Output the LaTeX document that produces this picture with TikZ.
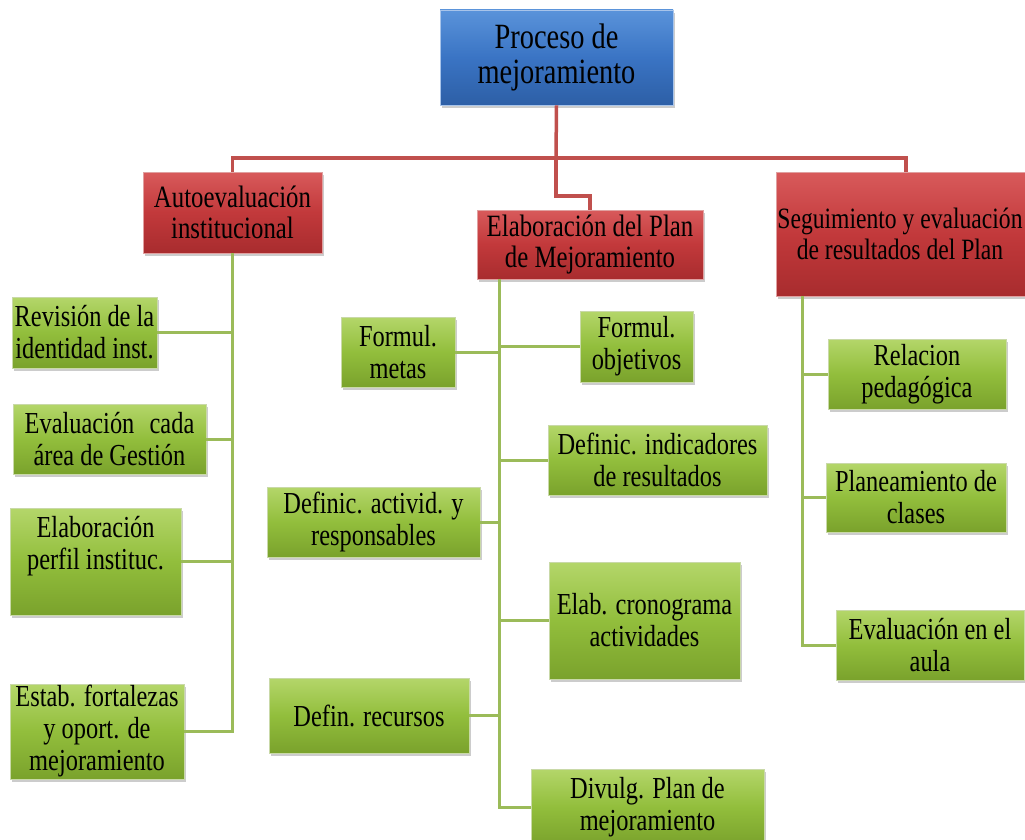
\documentclass[tikz,border=0pt]{standalone}
\usepackage{fontspec}
\setmainfont{Liberation Serif}[FakeStretch=0.8]
\usetikzlibrary{shadows}
\definecolor{gmain}{HTML}{92BE3C}
\definecolor{glight}{HTML}{B4D66A}
\definecolor{gdark}{HTML}{7AA22C}
\definecolor{gbord}{HTML}{C9D9A8}
\definecolor{rmain}{HTML}{C2393B}
\definecolor{rlight}{HTML}{D85A5B}
\definecolor{rdark}{HTML}{A82C2E}
\definecolor{rbord}{HTML}{E0A0A0}
\definecolor{bmain}{HTML}{3A74C4}
\definecolor{blight}{HTML}{5A93DA}
\definecolor{bdark}{HTML}{2D5FA6}
\definecolor{bbord}{HTML}{A8C4EA}
\definecolor{glinec}{HTML}{9BBB59}
\definecolor{rlinec}{HTML}{C0504D}
\begin{document}
\begin{tikzpicture}[x=1pt,y=-1pt,
  basebox/.style={rectangle, inner sep=0pt, align=center, text=black,
    drop shadow={shadow xshift=2pt, shadow yshift=-3pt, opacity=0.4}},
  gbox/.style={basebox, draw=gbord, line width=0.8pt, top color=glight, bottom color=gdark, middle color=gmain,
    font=\fontsize{30.5}{32}\selectfont},
  rbox/.style={basebox, draw=rbord, line width=0.8pt, top color=rlight, bottom color=rdark, middle color=rmain,
    font=\fontsize{31}{31}\selectfont},
  bbox/.style={basebox, draw=bbord, line width=0.8pt, top color=blight, bottom color=bdark, middle color=bmain,
    font=\fontsize{35.5}{35}\selectfont},
  txt/.style={inner sep=0pt, align=center, text=black, font=\fontsize{30.5}{32}\selectfont},
  gline/.style={draw=glinec, line width=3pt},
  rline/.style={draw=rlinec, line width=3.5pt}]
\useasboundingbox (0,0) rectangle (1025,840);
\clip (0,0) rectangle (1025,840);

\coordinate (rj) at (556,158);
\coordinate (mtop) at (499,279);
\coordinate (rtop) at (802,296);

% top level boxes
\node[bbox, minimum width=233pt, minimum height=95pt] (top) at (556.5,57.5) {Proceso de\\mejoramiento};
\node[rbox, minimum width=179pt, minimum height=81pt] (auto) at (232.5,212.5) {Autoevaluación\\institucional};
\node[rbox, minimum width=226pt, minimum height=69pt] (elab) at (590,244.5) {Elaboración del Plan\\de Mejoramiento};
\node[rbox, minimum width=260pt, minimum height=124pt] (seg) at (906,234) {};
\node[inner sep=0pt, align=center, text=black, font=\fontsize{29.5}{31}\selectfont] (segtxt) at (900,234) {Seguimiento y evaluación\\de resultados del Plan};

% left column
\node[gbox, minimum width=145pt, minimum height=71pt] (rev) at (84.5,332.5) {Revisión de la\\identidad inst.};
\node[gbox, minimum width=193pt, minimum height=70pt] (area) at (109.5,439) {Evaluación\enspace cada\\área de Gestión};
\node[gbox, minimum width=171pt, minimum height=107pt] (perfil) at (95.5,561.5) {};
\node[txt] (perfiltxt) at (95.5,546) {Elaboración\\perfil instituc.};
\node[gbox, minimum width=174pt, minimum height=95pt] (estab) at (97,731.5) {Estab. fortalezas\\y oport. de\\mejoramiento};

% middle column
\node[gbox, minimum width=114pt, minimum height=70pt] (metas) at (398,352) {Formul.\\metas};
\node[gbox, minimum width=113pt, minimum height=71pt] (obj) at (636.5,346.5) {Formul.\\objetivos};
\node[gbox, minimum width=219pt, minimum height=70pt] (indic) at (657.5,460) {Definic. indicadores\\de resultados};
\node[gbox, minimum width=213pt, minimum height=70pt] (activ) at (373.5,522) {Definic. activid. y\\responsables};
\node[gbox, minimum width=191pt, minimum height=117pt] (crono) at (644.5,620.5) {Elab. cronograma\\actividades};
\node[gbox, minimum width=200pt, minimum height=75pt] (recur) at (369,715.5) {Defin. recursos};
\node[gbox, minimum width=233pt, minimum height=76pt] (divulg) at (647.5,807) {Divulg. Plan de\\mejoramiento};

% right column
\node[gbox, minimum width=178pt, minimum height=70pt] (rel) at (917,374) {Relacion\\pedagógica};
\node[gbox, minimum width=180pt, minimum height=69pt] (plan) at (916,497.5) {Planeamiento de\\clases};
\node[gbox, minimum width=188pt, minimum height=70pt] (aula) at (930,645) {Evaluación en el\\aula};

% red connectors
\draw[rline] (top.south) -- (rj);
\draw[rline] (auto.north) |- (rj) -| (seg.north);
\draw[rline] (rj) -- ++(0,38) -| (elab.north);

% green connectors - left
\draw[gline] (auto.south) |- (estab.east);
\foreach \n in {rev,area,perfil}
  \draw[gline] (\n.east) -- (\n.east -| auto.south);

% green connectors - middle
\draw[gline] (mtop) |- (divulg.west);
\foreach \n in {metas,activ,recur}
  \draw[gline] (\n.east) -- (\n.east -| mtop);
\foreach \n in {obj,indic,crono}
  \draw[gline] (\n.west) -- (\n.west -| mtop);

% green connectors - right
\draw[gline] (rtop) |- (aula.west);
\foreach \n in {rel,plan}
  \draw[gline] (\n.west) -- (\n.west -| rtop);
\end{tikzpicture}
\end{document}
